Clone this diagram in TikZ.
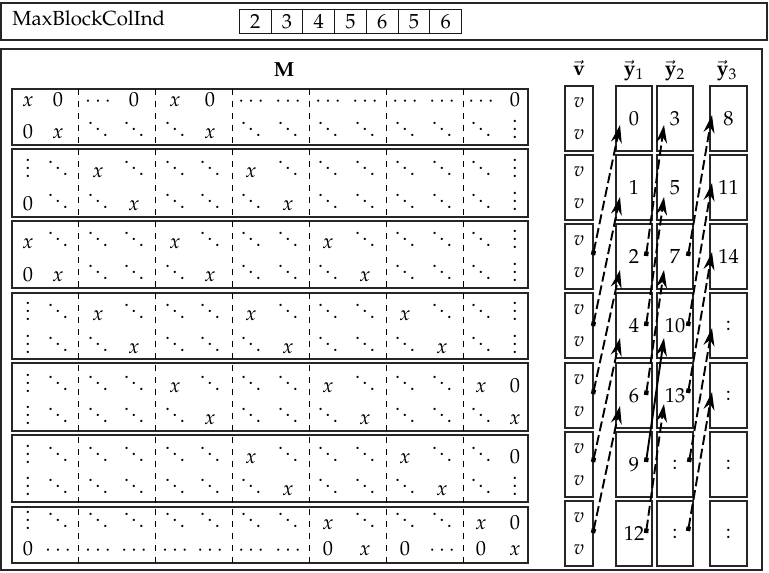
\documentclass[tikz,border=0pt]{standalone}
\usepackage[T1]{fontenc}
\usepackage{mathpazo}
\usetikzlibrary{arrows.meta}
\expandafter\def\csname mtokx\endcsname{$x$}
\expandafter\def\csname mtok0\endcsname{$0$}
\expandafter\def\csname mtokc\endcsname{$\cdots$}
\expandafter\def\csname mtokd\endcsname{$\ddots$}
\expandafter\def\csname mtokv\endcsname{$\vdots$}
\def\colxs{{28,58,98,134,175,210,251,288,328,365,405,442,481,515}}
\begin{document}
\begin{tikzpicture}[x=0.5pt,y=-0.5pt,
  font=\fontsize{10.2}{12}\selectfont,
  frame/.style={draw=black!85, line width=0.6pt},
  blockbox/.style={draw=black!85, line width=0.75pt},
  sepline/.style={dashed, line width=0.45pt},
  cellbox/.style={draw=black!90, line width=0.5pt, minimum width=15.88pt, minimum height=11.75pt, inner sep=0pt},
  mcell/.style={anchor=base, inner sep=0pt},
  vecbox/.style={draw=black!85, line width=0.65pt, minimum height=32.5pt, inner sep=0pt},
  lab/.style={inner sep=0pt},
  conn/.style={line width=0.95pt, dash pattern=on 5pt off 2pt,
    {Square[length=2.2pt,width=2.2pt]}-{Stealth[length=9pt,width=5.5pt,inset=3pt]}},
  connsolid/.style={line width=0.95pt,
    {Square[length=2.2pt,width=2.2pt]}-{Stealth[length=9pt,width=5.5pt,inset=3pt]}}
]
\useasboundingbox (0,0) rectangle (769,572);
% top bar
\draw[frame] (1,3) rectangle (767,40);
\node[anchor=base west, lab] (title) at (12,26) {MaxBlockColInd};
\foreach \v [count=\i] in {2,3,4,5,6,5,6}
  \node[cellbox] (mb\i) at ({239.3+31.77*(\i-0.5)},21.5) {\v};
% main frame
\draw[frame] (1,49) rectangle (762,570);
\node[anchor=base, lab] (Mlab) at (284,77) {$\mathbf{M}$};
% block boxes
\foreach \t/\b [count=\k] in {89/145,149/217,221/288,293/359,363/431,435/502,507/563}
  \draw[blockbox] (12,\t) rectangle (528,\b);
\foreach \xx in {78,155,232,309,386,463}
  \draw[sepline] (\xx,89) -- (\xx,563);
% matrix entries
\foreach \cells/\by [count=\r] in {
  {x,0,c,0,x,0,c,c,c,c,c,c,c,0}/107,
  {0,x,d,d,d,x,d,d,d,d,d,d,d,v}/139,
  {v,d,x,d,d,d,x,d,d,d,d,d,d,v}/177,
  {0,d,d,x,d,d,d,x,d,d,d,d,d,v}/210,
  {x,d,d,d,x,d,d,d,x,d,d,d,d,v}/248,
  {0,x,d,d,d,x,d,d,d,x,d,d,d,v}/281,
  {v,d,x,d,d,d,x,d,d,d,x,d,d,v}/320,
  {v,d,d,x,d,d,d,x,d,d,d,x,d,v}/353,
  {v,d,d,d,x,d,d,d,x,d,d,d,x,0}/392,
  {v,d,d,d,d,x,d,d,d,x,d,d,d,x}/424,
  {v,d,d,d,d,d,x,d,d,d,x,d,d,0}/463,
  {v,d,d,d,d,d,d,x,d,d,d,x,d,v}/495,
  {v,d,d,d,d,d,d,d,x,d,d,d,x,0}/529,
  {0,c,c,c,c,c,c,c,0,x,0,c,0,x}/555}
{
  \foreach \t [count=\c] in \cells {
    \pgfmathsetmacro\colx{\colxs[\c-1]}
    \node[mcell] (m\r-\c) at (\colx,\by) {\csname mtok\t\endcsname};
  }
}
% headings
\node[anchor=base, lab] (hv) at (579,76) {$\vec{\mathbf{v}}$};
\node[anchor=base, lab] (hy1) at (634,76) {$\vec{\mathbf{y}}_1$};
\node[anchor=base, lab] (hy2) at (675,76) {$\vec{\mathbf{y}}_2$};
\node[anchor=base, lab] (hy3) at (727,76) {$\vec{\mathbf{y}}_3$};
% vector boxes
\foreach \k/\tp/\a/\b/\cc in {1/86/0/3/8, 2/155/1/5/11, 3/224/2/7/14, 4/293/4/10/:, 5/363/6/13/:, 6/432/9/:/:, 7/501/12/:/:}
{
  \node[vecbox, minimum width=14pt] (v\k) at (579,\tp+32.5) {};
  \node[lab] (va\k) at (579,\tp+17) {$v$};
  \node[lab] (vb\k) at (579,\tp+49) {$v$};
  \node[vecbox, minimum width=18pt] (ya\k) at (634,\tp+32.5) {\a};
  \node[vecbox, minimum width=18pt] (yb\k) at (675,\tp+32.5) {\b};
  \node[vecbox, minimum width=18.5pt] (yc\k) at (728.5,\tp+32.5) {\cc};
}
% connector end points
\coordinate (pv3) at (593,255); \coordinate (pv4) at (593,326);
\coordinate (pv5) at (593,394); \coordinate (pv6) at (593,462);
\coordinate (pv7) at (593,533);
\coordinate (pa3) at (646,256); \coordinate (pa4) at (646,326);
\coordinate (pa5) at (646,395); \coordinate (pa6) at (646,462);
\coordinate (pa7) at (646,533);
\coordinate (pb3) at (688,256); \coordinate (pb4) at (688,326);
\coordinate (pb5) at (688,393); \coordinate (pb6) at (689,462);
\coordinate (pb7) at (688,531);
\coordinate (ta1) at (620,125); \coordinate (ta2) at (620,197);
\coordinate (ta3) at (620,270); \coordinate (ta4) at (620,338);
\coordinate (ta5) at (620,406);
\coordinate (tb1) at (664,125); \coordinate (tb2) at (664,197);
\coordinate (tb3) at (664,270); \coordinate (tb4) at (664,338);
\coordinate (tb5) at (664,404);
\coordinate (tc1) at (712,115); \coordinate (tc2) at (712,183);
\coordinate (tc3) at (712,252); \coordinate (tc4) at (712,328);
\coordinate (tc5) at (712,392);
% connectors
\draw[conn] (pv3) -- (ta1);
\draw[conn] (pv4) -- (ta2);
\draw[conn] (pv5) -- (ta3);
\draw[conn] (pv6) -- (ta4);
\draw[conn] (pv7) -- (ta5);
\draw[conn] (pa3) -- (tb1);
\draw[conn] (pa4) -- (tb2);
\draw[conn] (pa5) -- (tb3);
\draw[connsolid] (pa6) -- (tb4);
\draw[conn] (pa7) -- (tb5);
\draw[conn] (pb3) -- (tc1);
\draw[conn] (pb4) -- (tc2);
\draw[conn] (pb5) -- (tc3);
\draw[conn] (pb6) -- (tc4);
\draw[conn] (pb7) -- (tc5);
\end{tikzpicture}
\end{document}
